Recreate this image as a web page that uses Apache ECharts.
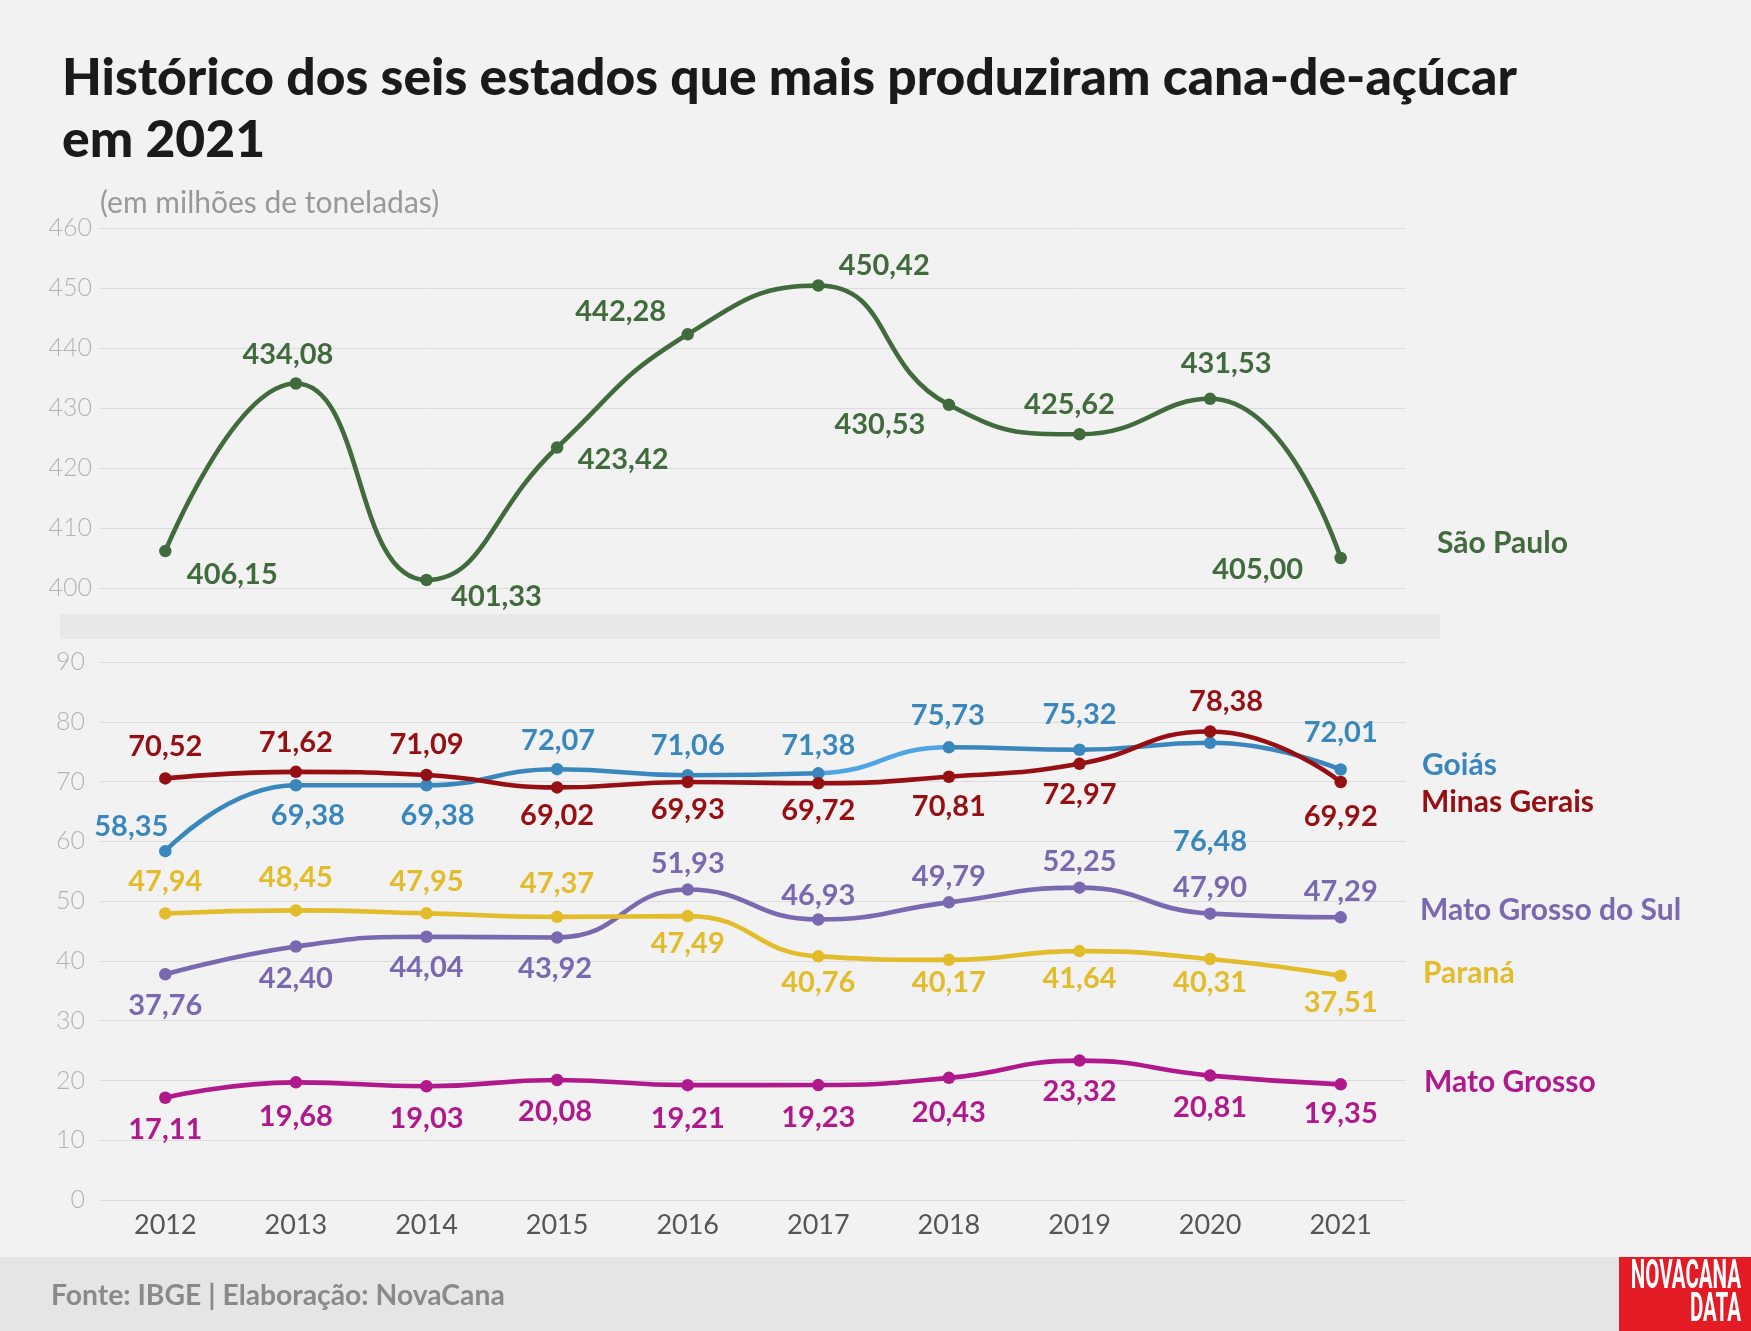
<!DOCTYPE html>
<html>
<head>
<meta charset="utf-8">
<style>
html,body{margin:0;padding:0;background:#f2f2f2;}
#chart{width:1751px;height:1331px;}
</style>
<script src="https://cdn.jsdelivr.net/npm/echarts@6/dist/echarts.min.js"></script>
</head>
<body>
<div id="chart"></div>
<script>
// ---- DATA ----
const years = ['2012','2013','2014','2015','2016','2017','2018','2019','2020','2021'];
const saoPaulo = [406.15, 434.08, 401.33, 423.42, 442.28, 450.42, 430.53, 425.62, 431.53, 405.00];
const goias = [58.35, 69.38, 69.38, 72.07, 71.06, 71.38, 75.73, 75.32, 76.48, 72.01];
const minasGerais = [70.52, 71.62, 71.09, 69.02, 69.93, 69.72, 70.81, 72.97, 78.38, 69.92];
const matoGrossoSul = [37.76, 42.40, 44.04, 43.92, 51.93, 46.93, 49.79, 52.25, 47.90, 47.29];
const parana = [47.94, 48.45, 47.95, 47.37, 47.49, 40.76, 40.17, 41.64, 40.31, 37.51];
const matoGrosso = [17.11, 19.68, 19.03, 20.08, 19.21, 19.23, 20.43, 23.32, 20.81, 19.35];
const topTicks = [400, 410, 420, 430, 440, 450, 460];
const bottomTicks = [0, 10, 20, 30, 40, 50, 60, 70, 80, 90];
const seriesNames = ['São Paulo', 'Goiás', 'Minas Gerais', 'Mato Grosso do Sul', 'Paraná', 'Mato Grosso'];

// ---- LAYOUT / STYLE (label offsets relative to points) ----
const labelOffsets = {
  sp: [[67,24],[-8,-29],[70,17],[66,12],[-67,-23],[66,-20],[-69,20],[-10,-30],[16,-35],[-83,12]],
  go: [[-34,-25],[12,30],[11,30],[1,-29],[0,-30],[0,-28],[-1,-32],[0,-35],[0,99],[0,-37]],
  mg: [[0,-32],[0,-29],[0,-30],[0,28],[0,28],[0,27],[0,30],[0,31],[16,-30],[0,35]],
  ms: [[0,31],[0,32],[0,31],[-2,31],[0,-26],[0,-24],[0,-26],[0,-26],[0,-26],[0,-26]],
  pr: [[0,-32],[0,-33],[0,-32],[0,-33],[0,28],[0,26],[0,23],[0,28],[0,24],[0,27]],
  mt: [[0,32],[0,34],[0,32],[-2,32],[0,33],[0,33],[0,35],[0,31],[0,32],[0,29]]
};
const colors = {
  sp: '#416b3d', go: '#3a87bd', goLight: '#4fa4e3', mg: '#960f13',
  ms: '#7a69b0', pr: '#e3bc2b', mt: '#b0198b'
};
const FONT = 'Lato';

function fmt(v){ return v.toFixed(2).replace('.', ','); }

function makeSeries(name, values, key, xi, yi, useVisual){
  const lineStyle = { width: 4.6 };
  if (!useVisual) lineStyle.color = colors[key];
  return {
    name: name,
    type: 'line',
    smooth: 0.5,
    xAxisIndex: xi, yAxisIndex: yi,
    symbol: 'circle',
    symbolSize: 12.5,
    lineStyle: lineStyle,
    itemStyle: { color: colors[key] },
    z: 3,
    data: values.map((v, i) => ({
      value: v,
      label: {
        show: true,
        position: 'inside',
        offset: labelOffsets[key][i],
        formatter: fmt(v),
        color: colors[key],
        fontFamily: FONT,
        fontWeight: 'bold',
        fontSize: 29
      }
    }))
  };
}

const chart = echarts.init(document.getElementById('chart'), null, {renderer: 'canvas'});

const axisLabelTop = { fontFamily: FONT, fontWeight: 300, fontSize: 25, color: '#b3b3b3', margin: 8 };
const axisLabelBot = { fontFamily: FONT, fontWeight: 300, fontSize: 25, color: '#b3b3b3', margin: 15 };
const splitLine = { show: true, lineStyle: { color: '#dcdcdc', width: 1 } };

const nameLabels = [
  { text: seriesNames[0], x: 1437, y: 543, color: colors.sp },
  { text: seriesNames[1], x: 1422, y: 765, color: colors.go },
  { text: seriesNames[2], x: 1421, y: 802, color: colors.mg },
  { text: seriesNames[3], x: 1420, y: 910, color: colors.ms },
  { text: seriesNames[4], x: 1423, y: 973, color: colors.pr },
  { text: seriesNames[5], x: 1424, y: 1082, color: colors.mt }
];

const option = {
  backgroundColor: '#f2f2f2',
  animation: false,
  title: {
    text: 'Histórico dos seis estados que mais produziram cana-de-açúcar\nem 2021',
    left: 62, top: 47,
    padding: 0,
    textStyle: { fontFamily: FONT, fontWeight: 900, fontSize: 51.6, lineHeight: 62, color: '#1a1a1a' }
  },
  grid: [
    { left: 100, right: 345, top: 228, height: 360, containLabel: false },
    { left: 100, right: 345, top: 662, height: 538, containLabel: false }
  ],
  xAxis: [
    { gridIndex: 0, type: 'category', data: years, boundaryGap: true,
      axisLine: {show:false}, axisTick: {show:false}, axisLabel: {show:false} },
    { gridIndex: 1, type: 'category', data: years, boundaryGap: true,
      axisLine: {show:false}, axisTick: {show:false},
      axisLabel: { fontFamily: FONT, fontSize: 27, color: '#555555', margin: 12 } }
  ],
  yAxis: [
    { gridIndex: 0, type: 'value', min: topTicks[0], max: topTicks[topTicks.length-1], interval: 10,
      axisLine: {show:false}, axisTick: {show:false}, axisLabel: axisLabelTop, splitLine: splitLine },
    { gridIndex: 1, type: 'value', min: bottomTicks[0], max: bottomTicks[bottomTicks.length-1], interval: 10,
      axisLine: {show:false}, axisTick: {show:false}, axisLabel: axisLabelBot, splitLine: splitLine }
  ],
  visualMap: [{
    show: false,
    type: 'piecewise',
    seriesIndex: 1,
    dimension: 0,
    pieces: [{ gt: 5, lt: 6, color: colors.goLight }],
    outOfRange: { color: colors.go }
  }],
  series: [
    makeSeries(seriesNames[0], saoPaulo, 'sp', 0, 0, false),
    makeSeries(seriesNames[1], goias, 'go', 1, 1, true),
    makeSeries(seriesNames[2], minasGerais, 'mg', 1, 1, false),
    makeSeries(seriesNames[3], matoGrossoSul, 'ms', 1, 1, false),
    makeSeries(seriesNames[4], parana, 'pr', 1, 1, false),
    makeSeries(seriesNames[5], matoGrosso, 'mt', 1, 1, false)
  ],
  graphic: [
    { type: 'rect', z: -1, shape: { x: 60, y: 614, width: 1380, height: 25 }, style: { fill: '#e8e8e8' } },
    { type: 'text', x: 100, y: 203, style: { text: '(em milhões de toneladas)', fontFamily: FONT, fontSize: 30, fill: '#999999', verticalAlign: 'middle' } },
    { type: 'rect', shape: { x: 0, y: 1257, width: 1751, height: 74 }, style: { fill: '#e5e5e5' } },
    { type: 'text', x: 51, y: 1296, style: { text: 'Fonte: IBGE | Elaboração: NovaCana', fontFamily: FONT, fontWeight: 'bold', fontSize: 28.3, fill: '#8a8a8a', verticalAlign: 'middle' } },
    { type: 'rect', shape: { x: 1619, y: 1257, width: 132, height: 74 }, style: { fill: '#e31b24' } },
    { type: 'text', x: 1741, y: 1278, scaleX: 0.5, style: { text: 'NOVACANA', fontFamily: 'Roboto', fontWeight: 'bold', fontSize: 41, fill: '#ffffff', align: 'right', verticalAlign: 'middle' } },
    { type: 'text', x: 1741, y: 1311, scaleX: 0.5, style: { text: 'DATA', fontFamily: 'Roboto', fontWeight: 'bold', fontSize: 41, fill: '#ffffff', align: 'right', verticalAlign: 'middle' } }
  ].concat(nameLabels.map(n => ({
    type: 'text', x: n.x, y: n.y,
    style: { text: n.text, fontFamily: FONT, fontWeight: 'bold', fontSize: 30, fill: n.color, verticalAlign: 'middle' }
  })))
};

chart.setOption(option);
</script>
</body>
</html>
